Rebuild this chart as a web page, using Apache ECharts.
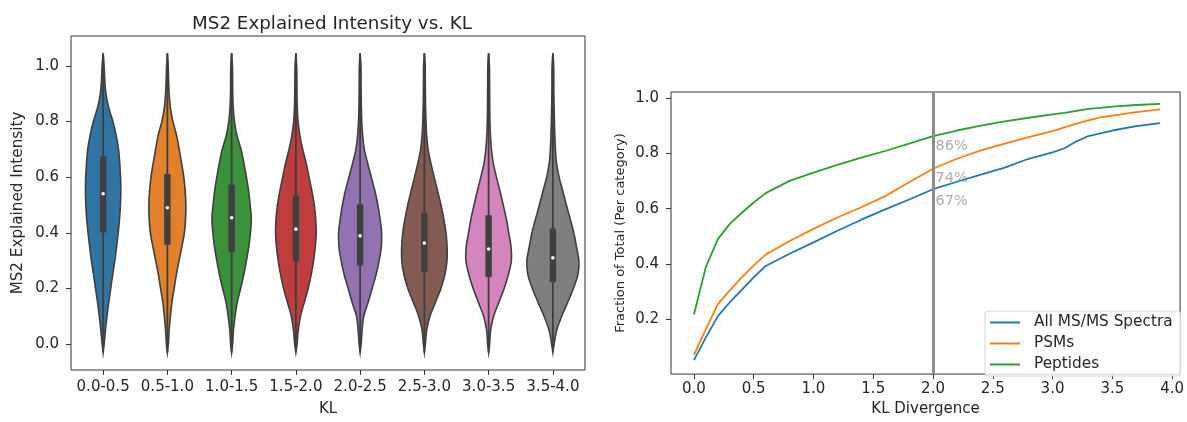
<!DOCTYPE html>
<html>
<head>
<meta charset="utf-8">
<script src="https://cdn.jsdelivr.net/npm/echarts@6/dist/echarts.min.js"></script>
<style>
  html, body { margin: 0; padding: 0; background: #fff; }
  #chart { width: 1187px; height: 422px; }
</style>
</head>
<body>
<div id="chart"></div>
<script>
// ---- left panel: violins ----
var categories = ['0.0-0.5', '0.5-1.0', '1.0-1.5', '1.5-2.0', '2.0-2.5', '2.5-3.0', '3.0-3.5', '3.5-4.0']
var medians = [0.54, 0.49, 0.454, 0.413, 0.389, 0.363, 0.342, 0.31]
var q1 = [0.401, 0.357, 0.33, 0.296, 0.282, 0.259, 0.241, 0.223]
var q3 = [0.674, 0.611, 0.573, 0.534, 0.502, 0.472, 0.463, 0.415]
// density profile (half width) read at these intensity levels
var levels = [-0.03, 0.0, 0.05, 0.1, 0.15, 0.2, 0.25, 0.3, 0.35, 0.4, 0.45, 0.5, 0.55, 0.6, 0.65, 0.7, 0.75, 0.8, 0.85, 0.9, 0.95, 1.0, 1.045]
var density = [
  [0, 1, 2.3, 3.8, 5.6, 7.6, 9.6, 11.7, 13.5, 15.1, 16.4, 17.3, 17.7, 17.4, 16.6, 15.4, 13, 9.8, 5.5, 2.8, 1.6, 1, 0],
  [0, 1, 1.8, 3, 4.5, 6.8, 9, 11.7, 14.5, 17, 18.2, 18.5, 17.8, 16.4, 14.2, 11.8, 9.2, 5.5, 3, 1.8, 1.2, 0.8, 0],
  [0, 1, 1.8, 3.4, 5.6, 9, 12.2, 14.8, 17.2, 18.8, 19.7, 18.5, 17, 14.8, 12.3, 9.4, 5.3, 2.8, 1.6, 1.1, 1, 0.8, 0],
  [0, 1.2, 2.4, 4.6, 8.4, 12.3, 15.3, 17.7, 19.4, 20.3, 19.8, 18.4, 16, 13.2, 10.3, 6.8, 4, 2.2, 1.4, 1.1, 1, 0.8, 0],
  [0, 1, 2, 3.6, 8, 12, 16, 19, 21.2, 21.5, 19.9, 17.7, 14.8, 11.2, 7.5, 4.2, 2.5, 1.6, 1.2, 1, 0.9, 0.8, 0],
  [0, 1, 2.3, 5.6, 11, 16.5, 20.5, 22.6, 22.7, 21.6, 19.4, 16.6, 13.3, 9.8, 6.5, 3.7, 2.3, 1.6, 1.2, 1, 0.9, 0.8, 0],
  [0, 1, 2, 5, 10.2, 15.5, 19.8, 22.7, 22.4, 20.1, 17.7, 14.6, 11.3, 7.8, 4.6, 2.8, 1.8, 1.3, 1.1, 1, 0.9, 0.8, 0],
  [0, 1.2, 3.8, 8.8, 14.8, 20.5, 25, 26, 23.6, 20.9, 17.3, 13.5, 9.9, 6.2, 3.6, 2.5, 1.9, 1.5, 1.2, 1, 0.9, 0.8, 0]
]
var yTicksLeft = [0, 0.2, 0.4, 0.6, 0.8, 1.0]

// ---- right panel: cumulative curves ----
var klX = [0, 0.1, 0.2, 0.3, 0.4, 0.5, 0.6, 0.8, 1.0, 1.2, 1.4, 1.6, 1.8, 2.0, 2.2, 2.4, 2.6, 2.8, 3.0, 3.1, 3.2, 3.3, 3.4, 3.5, 3.7, 3.9]
var allSpectra = [0.053, 0.135, 0.212, 0.262, 0.307, 0.352, 0.393, 0.437, 0.478, 0.52, 0.56, 0.597, 0.633, 0.67, 0.697, 0.723, 0.748, 0.78, 0.803, 0.818, 0.843, 0.862, 0.872, 0.882, 0.898, 0.909]
var psms = [0.072, 0.165, 0.255, 0.305, 0.352, 0.395, 0.434, 0.483, 0.527, 0.568, 0.605, 0.645, 0.695, 0.744, 0.78, 0.81, 0.835, 0.858, 0.88, 0.893, 0.907, 0.919, 0.929, 0.936, 0.948, 0.958]
var peptides = [0.218, 0.39, 0.49, 0.545, 0.585, 0.622, 0.656, 0.7, 0.73, 0.758, 0.784, 0.808, 0.835, 0.862, 0.882, 0.9, 0.915, 0.928, 0.94, 0.946, 0.953, 0.96, 0.964, 0.968, 0.974, 0.978]
var seriesNames = ['All MS/MS Spectra', 'PSMs', 'Peptides']
var xTicksRight = [0, 0.5, 1.0, 1.5, 2.0, 2.5, 3.0, 3.5, 4.0]
var yTicksRight = [0.2, 0.4, 0.6, 0.8, 1.0]
var cutoff = 2.0

var violinColors = ['#3274a1', '#e1812c', '#3a923a', '#c03d3e', '#9372b2', '#845b53', '#d684bd', '#7f7f7f']
var lineColors = ['#1f77b4', '#ff7f0e', '#2ca02c']
var ink = '#3f3f3f'
var font = 'DejaVu Sans'
var labelDrop = [0.042, 0.034, 0.038] // how far each % label sits below its curve

function pair(xs, ys) {
  return xs.map(function(x, i) { return [x, ys[i]] })
}

var idx2 = klX.indexOf(cutoff)
var pctPoints = [allSpectra, psms, peptides].map(function(s, j) {
  return [cutoff, s[idx2] - labelDrop[j], s[idx2]]
})

function renderViolin(params, api) {
  var i = api.value(0)
  var cx = api.coord([i, 0])[0]
  var band = api.size([1, 0])[0]
  var unit = band / 64.25
  var d = density[i]
  var right = []
  var left = []
  for (var k = 0; k < levels.length; k++) {
    var y = api.coord([i, levels[k]])[1]
    right.push([cx + d[k] * unit, y])
    left.unshift([cx - d[k] * unit, y])
  }
  var yTop = api.coord([i, levels[levels.length - 1]])[1]
  var yBot = api.coord([i, levels[0]])[1]
  var yQ3 = api.coord([i, q3[i]])[1]
  var yQ1 = api.coord([i, q1[i]])[1]
  var yMed = api.coord([i, medians[i]])[1]
  return {
    type: 'group',
    children: [
      {
        type: 'polygon',
        shape: { points: right.concat(left), smooth: 0.3 },
        style: { fill: violinColors[i], stroke: ink, lineWidth: 1.6 }
      },
      {
        type: 'line',
        shape: { x1: cx, y1: yTop, x2: cx, y2: yBot },
        style: { stroke: ink, lineWidth: 1.8 }
      },
      {
        type: 'rect',
        shape: { x: cx - 3.2, y: yQ3, width: 6.4, height: yQ1 - yQ3 },
        style: { fill: ink }
      },
      {
        type: 'circle',
        shape: { cx: cx, cy: yMed, r: 1.8 },
        style: { fill: '#fff' }
      }
    ]
  }
}

var chart = echarts.init(document.getElementById('chart'), null, { renderer: 'canvas' })

chart.setOption({
  backgroundColor: '#fff',
  animation: false,
  textStyle: { fontFamily: font },
  title: {
    text: 'MS2 Explained Intensity vs. KL',
    left: 327,
    top: 10,
    textAlign: 'center',
    textStyle: { fontFamily: font, fontSize: 18.3, fontWeight: 'normal', color: '#262626' }
  },
  legend: {
    data: seriesNames,
    orient: 'vertical',
    left: 985,
    top: 311,
    icon: 'rect',
    itemWidth: 30,
    itemHeight: 2,
    itemGap: 6,
    padding: [4, 8, 4, 5],
    borderColor: '#d6d6d6',
    borderWidth: 1,
    borderRadius: 3,
    backgroundColor: 'rgba(255,255,255,0.8)',
    textStyle: { fontFamily: font, fontSize: 15.3, color: '#262626', padding: [0, 0, 0, 9] }
  },
  grid: [
    { left: 71, top: 36, width: 514, height: 337, show: true, borderColor: '#333', borderWidth: 1, backgroundColor: 'transparent' },
    { left: 671, top: 92, width: 511, height: 289, show: true, borderColor: '#333', borderWidth: 1, backgroundColor: 'transparent' }
  ],
  xAxis: [
    {
      type: 'category',
      gridIndex: 0,
      data: categories,
      name: 'KL',
      nameLocation: 'middle',
      nameGap: 32,
      nameTextStyle: { fontFamily: font, fontSize: 15, color: '#262626' },
      axisLine: { show: false, onZero: false },
      axisTick: { show: true, alignWithLabel: true, length: 5, lineStyle: { color: '#333' } },
      axisLabel: { fontFamily: font, fontSize: 15, color: '#262626', margin: 10, interval: 0 },
      splitLine: { show: false }
    },
    {
      type: 'value',
      gridIndex: 1,
      min: -0.192,
      max: 4.067,
      name: 'KL Divergence',
      nameLocation: 'middle',
      nameGap: 25,
      nameTextStyle: { fontFamily: font, fontSize: 15, color: '#262626' },
      axisLine: { show: false, onZero: false },
      axisTick: { show: true, length: 5, customValues: xTicksRight, lineStyle: { color: '#333' } },
      axisLabel: {
        fontFamily: font, fontSize: 15, color: '#262626', margin: 8,
        customValues: xTicksRight,
        formatter: function(v) { return v.toFixed(1) }
      },
      splitLine: { show: false }
    }
  ],
  yAxis: [
    {
      type: 'value',
      gridIndex: 0,
      min: -0.093,
      max: 1.107,
      name: 'MS2 Explained Intensity',
      nameLocation: 'middle',
      nameGap: 45,
      nameTextStyle: { fontFamily: font, fontSize: 15.2, color: '#262626' },
      axisLine: { show: false, onZero: false },
      axisTick: { show: true, length: 5, customValues: yTicksLeft, lineStyle: { color: '#333' } },
      axisLabel: {
        fontFamily: font, fontSize: 15, color: '#262626', margin: 12,
        customValues: yTicksLeft,
        formatter: function(v) { return v.toFixed(1) }
      },
      splitLine: { show: false }
    },
    {
      type: 'value',
      gridIndex: 1,
      min: 0.0026,
      max: 1.021,
      name: 'Fraction of Total (Per category)',
      nameLocation: 'middle',
      nameGap: 44,
      nameTextStyle: { fontFamily: font, fontSize: 13, color: '#262626' },
      axisLine: { show: false, onZero: false },
      axisTick: { show: true, length: 5, customValues: yTicksRight, lineStyle: { color: '#333' } },
      axisLabel: {
        fontFamily: font, fontSize: 15, color: '#262626', margin: 12,
        customValues: yTicksRight,
        formatter: function(v) { return v.toFixed(1) }
      },
      splitLine: { show: false }
    }
  ],
  series: [
    {
      type: 'custom',
      name: 'violins',
      xAxisIndex: 0,
      yAxisIndex: 0,
      data: medians.map(function(m, i) { return [i, m] }),
      encode: { x: 0, y: 1 },
      renderItem: renderViolin
    },
    {
      type: 'line',
      name: 'cutoff',
      xAxisIndex: 1,
      yAxisIndex: 1,
      data: [],
      markLine: {
        silent: true,
        symbol: ['none', 'none'],
        label: { show: false },
        lineStyle: { color: '#8c8c8c', width: 3, type: 'solid' },
        data: [{ xAxis: cutoff }]
      }
    },
    {
      type: 'line',
      name: seriesNames[0],
      xAxisIndex: 1,
      yAxisIndex: 1,
      data: pair(klX, allSpectra),
      symbol: 'none',
      color: lineColors[0],
      lineStyle: { width: 1.8, color: lineColors[0] }
    },
    {
      type: 'line',
      name: seriesNames[1],
      xAxisIndex: 1,
      yAxisIndex: 1,
      data: pair(klX, psms),
      symbol: 'none',
      color: lineColors[1],
      lineStyle: { width: 1.8, color: lineColors[1] }
    },
    {
      type: 'line',
      name: seriesNames[2],
      xAxisIndex: 1,
      yAxisIndex: 1,
      data: pair(klX, peptides),
      symbol: 'none',
      color: lineColors[2],
      lineStyle: { width: 1.8, color: lineColors[2] }
    },
    {
      type: 'scatter',
      name: 'pct',
      xAxisIndex: 1,
      yAxisIndex: 1,
      data: pctPoints,
      symbol: 'circle',
      symbolSize: 1,
      itemStyle: { color: 'rgba(0,0,0,0)' },
      label: {
        show: true,
        position: 'right',
        distance: 2,
        fontFamily: font,
        fontSize: 14.5,
        color: '#969696',
        formatter: function(p) { return Math.round(p.value[2] * 100) + '%' }
      }
    }
  ]
})
</script>
</body>
</html>
